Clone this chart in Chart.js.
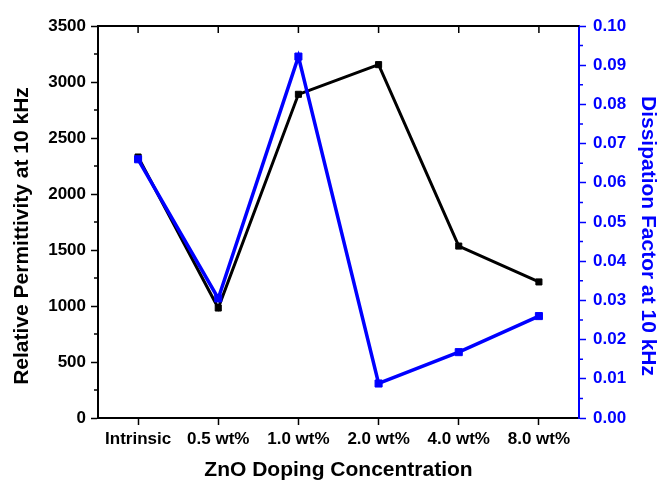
<!DOCTYPE html>
<html>
<head>
<meta charset="utf-8">
<script src="https://cdn.jsdelivr.net/npm/chart.js@4.4.1/dist/chart.umd.min.js"></script>
<style>
  body { margin: 0; background: #fff; }
  canvas { display: block; }
</style>
</head>
<body>
<canvas id="chart" width="659" height="483"></canvas>
<script>
// valores
const categories = ["Intrinsic", "0.5 wt%", "1.0 wt%", "2.0 wt%", "4.0 wt%", "8.0 wt%"];
const permittivity = [2330, 982, 2890, 3155, 1535, 1215];
const dissipation = [0.066, 0.0305, 0.0922, 0.0088, 0.0168, 0.026];
const leftTicks = [0, 500, 1000, 1500, 2000, 2500, 3000, 3500];
const rightTicks = [0, 0.01, 0.02, 0.03, 0.04, 0.05, 0.06, 0.07, 0.08, 0.09, 0.10];

const BLUE = "#0000ff";
const FONT = "'Liberation Sans', Arial, sans-serif";

// moldura de cima, ticks menores e titulos dos eixos y
const extras = {
    id: "extras",
    afterDraw(chart) {
        const { ctx, chartArea: a, scales } = chart;
        ctx.save();
        ctx.strokeStyle = "#000";
        ctx.lineWidth = 2;
        ctx.beginPath();
        ctx.moveTo(a.left - 1, a.top);
        ctx.lineTo(a.right, a.top);
        ctx.stroke();

        ctx.lineWidth = 1.5;
        ctx.beginPath();
        categories.forEach((c, i) => {
            const px = scales.x.getPixelForValue(i);
            ctx.moveTo(px, a.top);
            ctx.lineTo(px, a.top + 7);
        });
        for (let i = 0; i < leftTicks.length - 1; i++) {
            const py = scales.y.getPixelForValue((leftTicks[i] + leftTicks[i + 1]) / 2);
            ctx.moveTo(a.left, py);
            ctx.lineTo(a.left - 4, py);
        }
        ctx.stroke();

        ctx.strokeStyle = BLUE;
        ctx.beginPath();
        for (let i = 0; i < rightTicks.length - 1; i++) {
            const py = scales.y1.getPixelForValue((rightTicks[i] + rightTicks[i + 1]) / 2);
            ctx.moveTo(a.right, py);
            ctx.lineTo(a.right + 4, py);
        }
        ctx.stroke();

        ctx.font = "bold 21px " + FONT;
        ctx.textAlign = "center";
        ctx.textBaseline = "middle";
        ctx.fillStyle = "#000";
        ctx.translate(22, 236);
        ctx.rotate(-Math.PI / 2);
        ctx.fillText("Relative Permittivity at 10 kHz", 0, 0);
        ctx.setTransform(1, 0, 0, 1, 0, 0);
        ctx.fillStyle = BLUE;
        ctx.translate(648, 236);
        ctx.rotate(Math.PI / 2);
        ctx.fillText("Dissipation Factor at 10 kHz", 0, 0);
        ctx.restore();
    }
};

new Chart(document.getElementById("chart"), {
    type: "line",
    data: {
        labels: categories,
        datasets: [{
            label: "Dissipation Factor",
            data: dissipation,
            yAxisID: "y1",
            borderColor: BLUE,
            backgroundColor: BLUE,
            borderWidth: 3.5,
            pointStyle: "rect",
            pointRadius: 5,
            pointBorderWidth: 1,
            tension: 0,
            order: 0
        }, {
            label: "Relative Permittivity",
            data: permittivity,
            yAxisID: "y",
            borderColor: "#000",
            backgroundColor: "#000",
            borderWidth: 3,
            pointStyle: "rect",
            pointRadius: 4.3,
            pointBorderWidth: 1,
            tension: 0,
            order: 1
        }]
    },
    plugins: [extras],
    options: {
        responsive: false,
        animation: false,
        layout: { padding: { top: 26, left: 0, right: 0, bottom: 0 } },
        plugins: {
            legend: { display: false },
            tooltip: { enabled: false }
        },
        scales: {
            x: {
                offset: true,
                afterFit: s => { s.height = 65; },
                grid: { offset: false, drawOnChartArea: false, tickLength: 7, tickWidth: 1.5, color: "#000" },
                border: { color: "#000", width: 2 },
                ticks: { color: "#000", padding: 4, maxRotation: 0, autoSkip: false, font: { family: FONT, size: 17, weight: "bold" } },
                title: {
                    display: true,
                    text: "ZnO Doping Concentration",
                    color: "#000",
                    padding: { top: 0, bottom: 0 },
                    font: { family: FONT, size: 21, weight: "bold" }
                }
            },
            y: {
                position: "left",
                min: 0,
                max: 3500,
                afterFit: s => { s.width = 98; },
                afterBuildTicks: s => { s.ticks = leftTicks.map(v => ({ value: v })); },
                grid: { drawOnChartArea: false, tickLength: 7, tickWidth: 1.5, color: "#000" },
                border: { color: "#000", width: 2 },
                ticks: { color: "#000", padding: 5, callback: v => String(v), font: { family: FONT, size: 17, weight: "bold" } }
            },
            y1: {
                position: "right",
                min: 0,
                max: 0.1,
                afterFit: s => { s.width = 80; },
                afterBuildTicks: s => { s.ticks = rightTicks.map(v => ({ value: v })); },
                grid: { drawOnChartArea: false, tickLength: 7, tickWidth: 1.5, color: BLUE },
                border: { color: BLUE, width: 2 },
                ticks: { color: BLUE, padding: 7, callback: v => v.toFixed(2), font: { family: FONT, size: 17, weight: "bold" } }
            }
        }
    }
});
</script>
</body>
</html>
